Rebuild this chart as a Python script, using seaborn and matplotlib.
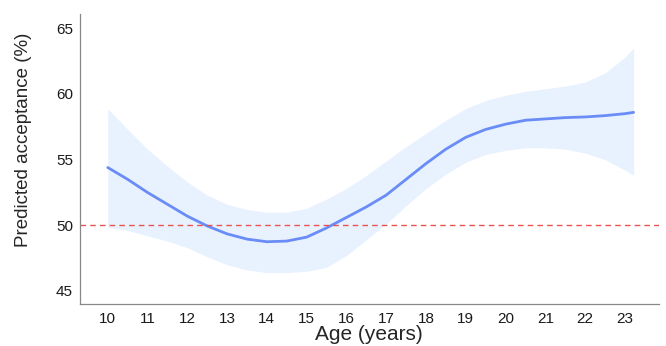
import numpy as np
import pandas as pd
import matplotlib
matplotlib.use("Agg")
import matplotlib.pyplot as plt
import seaborn as sns

# values (half-year steps)
age = [10, 10.5, 11, 11.5, 12, 12.5, 13, 13.5, 14, 14.5, 15, 15.5, 16, 16.5,
       17, 17.5, 18, 18.5, 19, 19.5, 20, 20.5, 21, 21.5, 22, 22.5, 23, 23.22]
pred = [54.4, 53.5, 52.5, 51.6, 50.7, 49.95, 49.35, 48.95, 48.75, 48.8, 49.1, 49.8, 50.6, 51.4,
        52.3, 53.5, 54.7, 55.8, 56.7, 57.3, 57.7, 58.0, 58.1, 58.2, 58.25, 58.35, 58.5, 58.6]
upper = [58.9, 57.3, 55.8, 54.5, 53.3, 52.3, 51.6, 51.2, 51.0, 51.0, 51.3, 52.0, 52.8, 53.8,
         54.9, 56.0, 57.0, 58.0, 58.9, 59.5, 59.9, 60.2, 60.4, 60.6, 60.9, 61.6, 62.8, 63.5]
lower = [49.85, 49.6, 49.2, 48.8, 48.3, 47.6, 47.0, 46.6, 46.4, 46.4, 46.5, 46.8, 47.7, 48.9,
         50.1, 51.5, 52.8, 53.9, 54.8, 55.4, 55.7, 55.9, 55.9, 55.8, 55.5, 55.0, 54.2, 53.8]
x_ticks = list(range(10, 24))
y_ticks = [45, 50, 55, 60, 65]
chance = 50

df = pd.DataFrame({"age": age, "pred": pred, "upper": upper, "lower": lower})

sns.set_style("white")
plt.rcParams["font.family"] = ["Liberation Sans", "DejaVu Sans"]

fig = plt.figure(figsize=(6.66, 3.46), dpi=100)
ax = fig.add_axes([0.12, 0.121, 0.869, 0.839])

# confidence band
ax.fill_between(df["age"], df["lower"], df["upper"], color="#e8f2ff", linewidth=0)
# predicted curve
sns.lineplot(data=df, x="age", y="pred", ax=ax, color="#6a8cf7", linewidth=2)
# 50% reference
ax.axhline(chance, color="#e8534f", linestyle=(0, (4, 3)), linewidth=1)

ax.set_xlim(9.3, 23.85)
ax.set_ylim(44.0, 66.1)
ax.set_xticks(x_ticks)
ax.set_yticks(y_ticks)
ax.set_xlabel("Age (years)", fontsize=15, labelpad=-1)
ax.set_ylabel("Predicted acceptance (%)", fontsize=13.5)
ax.yaxis.set_label_coords(-0.083, 0.565)
ax.tick_params(axis="both", labelsize=11, length=3, width=0.8, color="#888888",
               labelcolor="#1a1a1a", direction="out", pad=2)
ax.tick_params(axis="x", pad=3)

sns.despine(ax=ax)
for s in ["left", "bottom"]:
    ax.spines[s].set_color("#888888")
    ax.spines[s].set_linewidth(0.9)

fig.savefig("out.png", dpi=100)
